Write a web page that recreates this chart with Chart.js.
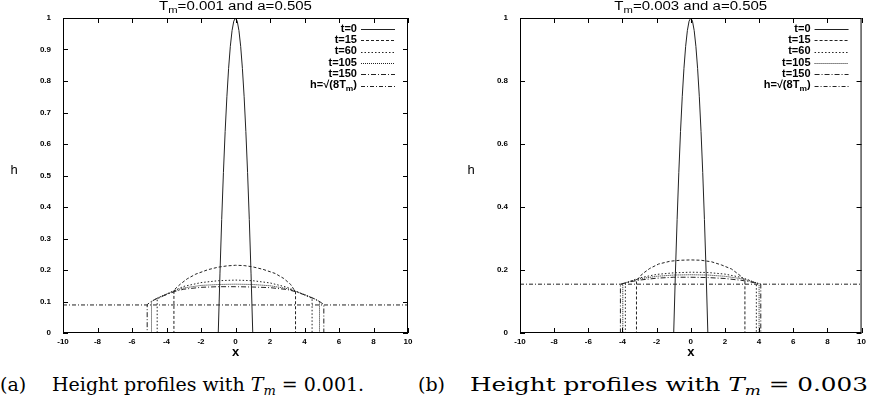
<!DOCTYPE html>
<html>
<head>
<meta charset="utf-8">
<script src="https://cdn.jsdelivr.net/npm/chart.js@4.4.1/dist/chart.umd.min.js"></script>
<style>
  body { margin:0; background:#fff; width:870px; height:401px; overflow:hidden; position:relative; }
  canvas { position:absolute; top:0; }
  #chartA { left:0; }
  #chartB { left:435px; }
  .cap { position:absolute; top:373px; font-family:'DejaVu Serif', serif; font-size:19px; color:#000; white-space:nowrap; }
  .cap .lbl { display:inline-block; width:52px; }
  .cap sub { font-size:13px; vertical-align:-4px; line-height:0; }
  .wide { display:inline-block; transform:scaleX(1.3); transform-origin:left center; }
</style>
</head>
<body>
<canvas id="chartA" width="435" height="362"></canvas>
<canvas id="chartB" width="435" height="362"></canvas>
<div class="cap" style="left:0"><span class="lbl">(a)</span>Height profiles with <i>T<sub>m</sub></i> = 0.001.</div>
<div class="cap" style="left:418px"><span class="lbl">(b)</span><span class="wide">Height profiles with <i>T<sub>m</sub></i> = 0.003</span></div>
<script>
// labels and ticks
const seriesLabels = ['t=0', 't=15', 't=60', 't=105', 't=150', 'h=√(8T_m)'];
const xTickLabels = [-10, -8, -6, -4, -2, 0, 2, 4, 6, 8, 10];
const yTicksA = [0, 0.1, 0.2, 0.3, 0.4, 0.5, 0.6, 0.7, 0.8, 0.9, 1];
const yTicksB = [0, 0.2, 0.4, 0.6, 0.8, 1];

// initial profile (same in both panels)
const t0X = [-10, -1, -0.9, -0.8, -0.7, -0.6, -0.5, -0.4, -0.3, -0.2, -0.1, 0, 0.1, 0.2, 0.3, 0.4, 0.5, 0.6, 0.7, 0.8, 0.9, 1, 10];
const t0H = [0, 0, 0.19, 0.36, 0.51, 0.64, 0.75, 0.84, 0.91, 0.96, 0.99, 1, 0.99, 0.96, 0.91, 0.84, 0.75, 0.64, 0.51, 0.36, 0.19, 0, 0];

// panel (a), Tm=0.001
const a15X = [-10, -3.57, -3.57, -3.4, -3.2, -2.8, -2.3, -1.6, -1, -0.5, 0, 0.5, 1, 1.6, 2.3, 2.8, 3.2, 3.48, 3.48, 10];
const a15H = [0, 0, 0.136, 0.145, 0.155, 0.172, 0.187, 0.201, 0.209, 0.213, 0.215, 0.214, 0.210, 0.202, 0.189, 0.173, 0.154, 0.130, 0, 0];
const a60X = [-10, -4.54, -4.54, -4, -3.5, -3, -2, -1, 0, 1, 2, 3, 3.5, 4, 4.44, 4.44, 10];
const a60H = [0, 0, 0.108, 0.123, 0.136, 0.148, 0.160, 0.166, 0.168, 0.166, 0.159, 0.145, 0.133, 0.121, 0.110, 0, 0];
const a105X = [-10, -4.87, -4.87, -4.5, -4, -3.5, -3, -2, -1, 0, 1, 2, 3, 3.5, 4, 4.5, 4.87, 4.87, 10];
const a105H = [0, 0, 0.100, 0.112, 0.124, 0.135, 0.143, 0.151, 0.154, 0.155, 0.154, 0.150, 0.141, 0.132, 0.122, 0.111, 0.100, 0, 0];
const a150X = [-10, -5.12, -5.12, -4.9, -4.5, -4, -3.5, -3, -2, -1, 0, 1, 2, 3, 3.5, 4, 4.5, 4.9, 5.12, 5.12, 10];
const a150H = [0, 0, 0.090, 0.100, 0.111, 0.122, 0.132, 0.139, 0.145, 0.147, 0.147, 0.146, 0.144, 0.138, 0.131, 0.121, 0.110, 0.099, 0.090, 0, 0];
const aRootX = [-10, 10];
const aRootH = [0.089, 0.089];

// panel (b), Tm=0.003
const b15X = [-10, -3.18, -3.18, -2.85, -2.4, -1.88, -1.2, -0.6, 0, 0.6, 1.22, 1.8, 2.39, 2.97, 3.17, 3.17, 10];
const b15H = [0, 0, 0.165, 0.187, 0.205, 0.219, 0.228, 0.231, 0.232, 0.231, 0.226, 0.216, 0.203, 0.179, 0.166, 0, 0];
const b60X = [-10, -3.83, -3.83, -3.5, -3, -2, -1, 0, 1, 2, 3, 3.5, 3.84, 3.84, 10];
const b60H = [0, 0, 0.158, 0.165, 0.175, 0.186, 0.191, 0.193, 0.192, 0.187, 0.176, 0.166, 0.158, 0, 0];
const b105X = [-10, -3.98, -3.98, -3.5, -3, -2, -1, 0, 1, 2, 3, 3.5, 4.0, 4.0, 10];
const b105H = [0, 0, 0.157, 0.165, 0.172, 0.180, 0.184, 0.185, 0.184, 0.180, 0.172, 0.165, 0.157, 0, 0];
const b150X = [-10, -4.12, -4.12, -3.5, -3, -2, -1, 0, 1, 2, 3, 3.5, 4.1, 4.1, 10];
const b150H = [0, 0, 0.155, 0.163, 0.168, 0.174, 0.177, 0.177, 0.176, 0.173, 0.167, 0.162, 0.155, 0, 0];
const bRootX = [-10, 10];
const bRootH = [0.155, 0.155];

const dashes = [[], [3, 2], [1.5, 2], [1, 1], [5, 2, 1, 2], [4, 2, 1, 2]];
const ink = '#222';
const sans = '"Liberation Sans", Arial, sans-serif';

function pts(xs, hs) {
  return xs.map((x, i) => ({ x: x, y: hs[i] }));
}

// text with "_m" style subscripts, optionally stretched horizontally
function drawRich(ctx, str, x, y, size, align, stretch, weight) {
  const parts = str.split(/_(.)/);
  const big = `${weight} ${size}px ${sans}`;
  const small = `${weight} ${Math.round(size * 0.75)}px ${sans}`;
  let w = 0;
  parts.forEach((p, i) => { ctx.font = i % 2 ? small : big; w += ctx.measureText(p).width; });
  let start = x;
  if (align === 'center') start = x - w * stretch / 2;
  if (align === 'right') start = x - w * stretch;
  ctx.save();
  ctx.translate(start, y);
  ctx.scale(stretch, 1);
  ctx.fillStyle = '#000';
  ctx.textBaseline = 'middle';
  ctx.textAlign = 'left';
  let cx = 0;
  parts.forEach((p, i) => {
    ctx.font = i % 2 ? small : big;
    ctx.fillText(p, cx, i % 2 ? size * 0.3 : 0);
    cx += ctx.measureText(p).width;
  });
  ctx.restore();
}

function gnuPlugin(title, yTicks) {
  return {
    id: 'gnu',
    afterDraw(chart) {
      const ctx = chart.ctx;
      const a = chart.chartArea;
      const xs = chart.scales.x, ys = chart.scales.y;
      ctx.save();
      ctx.strokeStyle = '#000';
      ctx.lineWidth = 1;
      ctx.strokeRect(a.left + 0.5, a.top + 0.5, a.right - a.left - 1, a.bottom - a.top - 1);
      ctx.beginPath();
      xTickLabels.forEach(v => {
        const px = Math.round(xs.getPixelForValue(v)) + 0.5;
        ctx.moveTo(px, a.bottom); ctx.lineTo(px, a.bottom - 5);
        ctx.moveTo(px, a.top); ctx.lineTo(px, a.top + 5);
      });
      yTicks.forEach(v => {
        const py = Math.round(ys.getPixelForValue(v)) + 0.5;
        ctx.moveTo(a.left, py); ctx.lineTo(a.left + 5, py);
        ctx.moveTo(a.right, py); ctx.lineTo(a.right - 5, py);
      });
      ctx.stroke();

      // titles
      const mid = (a.left + a.right) / 2;
      drawRich(ctx, title, mid, 7, 12, 'center', 1.25, 'normal');
      drawRich(ctx, 'x', mid, 352, 13, 'center', 1, 'bold');
      drawRich(ctx, 'h', a.left - 49, 170, 13, 'center', 1, 'normal');

      // legend, gnuplot style: label then sample
      chart.data.datasets.forEach((ds, i) => {
        const y = a.top + 11 + i * 11.3;
        drawRich(ctx, ds.label, a.right - 51, y, 10.5, 'right', 1.05, 'bold');
        ctx.beginPath();
        ctx.setLineDash(ds.borderDash);
        ctx.strokeStyle = ink;
        ctx.lineWidth = 1;
        ctx.moveTo(a.right - 47, Math.round(y) + 0.5);
        ctx.lineTo(a.right - 13, Math.round(y) + 0.5);
        ctx.stroke();
      });
      ctx.restore();
    }
  };
}

function makeChart(id, title, series, yTicks, padRight, yWidth) {
  return new Chart(document.getElementById(id), {
    type: 'scatter',
    data: {
      datasets: series.map((s, i) => ({
        label: seriesLabels[i],
        data: pts(s[0], s[1]),
        showLine: true,
        borderColor: ink,
        borderWidth: 1,
        borderDash: dashes[i],
        pointRadius: 0,
        tension: 0,
        fill: false
      }))
    },
    options: {
      responsive: false,
      animation: false,
      events: [],
      layout: { padding: { top: 18, right: padRight, left: 0, bottom: 0 } },
      plugins: { legend: { display: false }, tooltip: { enabled: false } },
      scales: {
        x: {
          type: 'linear', min: -10, max: 10,
          afterBuildTicks: s => { s.ticks = xTickLabels.map(v => ({ value: v })); },
          afterFit: s => { s.height = 29; },
          grid: { display: false, drawTicks: false },
          border: { display: false },
          ticks: { padding: 4, color: '#000', autoSkip: false, maxRotation: 0,
                   font: { family: sans, size: 8, weight: 'bold' }, callback: v => String(v) }
        },
        y: {
          type: 'linear', min: 0, max: 1,
          afterBuildTicks: s => { s.ticks = yTicks.map(v => ({ value: v })); },
          afterFit: s => { s.width = yWidth; },
          grid: { display: false, drawTicks: false },
          border: { display: false },
          ticks: { padding: 12, color: '#000', autoSkip: false,
                   font: { family: sans, size: 8, weight: 'bold' }, callback: v => String(v) }
        }
      }
    },
    plugins: [gnuPlugin(title, yTicks)]
  });
}

makeChart('chartA', 'T_m=0.001 and a=0.505',
  [[t0X, t0H], [a15X, a15H], [a60X, a60H], [a105X, a105H], [a150X, a150H], [aRootX, aRootH]],
  yTicksA, 27, 63);
makeChart('chartB', 'T_m=0.003 and a=0.505',
  [[t0X, t0H], [b15X, b15H], [b60X, b60H], [b105X, b105H], [b150X, b150H], [bRootX, bRootH]],
  yTicksB, 7, 85);
</script>
</body>
</html>
